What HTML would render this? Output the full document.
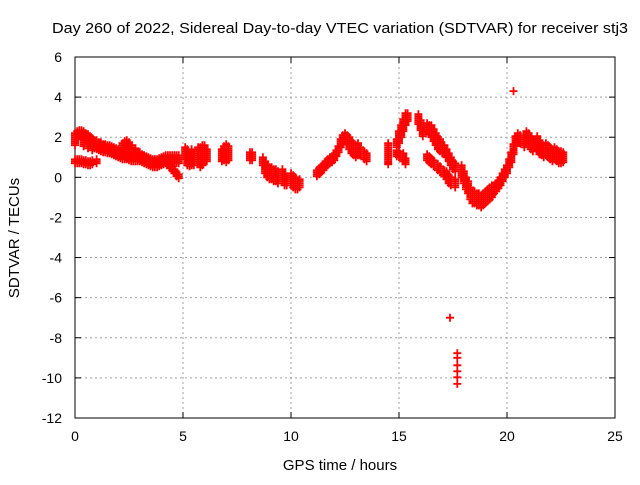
<!DOCTYPE html>
<html><head><meta charset="utf-8">
<style>
body{margin:0;background:#fff;}
svg text{font-family:"Liberation Sans",sans-serif;font-size:14px;fill:#000;}
</style></head>
<body>
<svg id="chart" width="640" height="480" xmlns="http://www.w3.org/2000/svg">
<rect width="640" height="480" fill="#fff"/>
<g id="grid"></g>
<g id="axes"></g>
<g id="marks"></g>
<text x="52" y="33" textLength="576" lengthAdjust="spacingAndGlyphs" style="font-size:15px">Day 260 of 2022, Sidereal Day-to-day VTEC variation (SDTVAR) for receiver stj3</text>
<text x="340" y="470" text-anchor="middle" style="font-size:15px">GPS time / hours</text>
<text transform="translate(19,238) rotate(-90)" text-anchor="middle" style="font-size:15px">SDTVAR / TECUs</text>
</svg>
<script>
const xTicks=[0,5,10,15,20,25];
const yTicks=[6,4,2,0,-2,-4,-6,-8,-10,-12];
// [time(h), value(TECU), vertical spread]
const traceUpper=[[0,1.9,0.3],[0.1,2.1,0.2],[0.2,2.2,0.15],[0.3,2.2,0.15],[0.4,2.15,0.15],[0.5,2.05,0.15],[0.6,1.95,0.2],[0.7,1.85,0.2],[0.8,1.75,0.2],[0.9,1.65,0.2],[1.0,1.6,0.2],[1.1,1.55,0.2],[1.2,1.5,0.2],[1.3,1.45,0.2],[1.4,1.45,0.2],[1.5,1.4,0.2],[1.6,1.4,0.2],[1.7,1.35,0.2],[1.8,1.3,0.2],[1.9,1.25,0.2],[2.0,1.2,0.2],[2.1,1.15,0.2],[2.2,1.1,0.2],[2.3,1.1,0.2],[2.4,1.1,0.2],[2.5,1.05,0.2],[2.6,1.0,0.2],[2.7,1.0,0.2],[2.8,1.0,0.2],[2.9,1.0,0.2],[3.0,1.0,0.2],[3.1,0.95,0.2],[3.2,0.9,0.2],[3.3,0.85,0.2],[3.4,0.8,0.2],[3.5,0.75,0.2],[3.6,0.7,0.2],[3.7,0.7,0.2],[3.8,0.7,0.2],[3.9,0.75,0.2],[4.0,0.8,0.2],[4.1,0.85,0.2],[4.2,0.9,0.2],[4.3,0.9,0.2],[4.4,0.9,0.2],[4.5,0.9,0.2],[4.6,0.9,0.2],[4.7,0.9,0.2],[4.8,0.9,0.2]];
const traceLower=[[0,0.8,0.1],[0.1,0.8,0.1],[0.2,0.8,0.1],[0.3,0.8,0.1],[0.4,0.75,0.1],[0.5,0.75,0.1],[0.6,0.7,0.1],[0.7,0.7,0.1],[0.8,0.75,0.1],[1.0,0.8,0.1]];
const traceBranch=[[0.4,1.7,0.15],[0.6,1.6,0.15],[0.8,1.5,0.15],[1.0,1.7,0.15],[1.2,1.6,0.15],[1.4,1.5,0.15],[1.6,1.4,0.1],[2.2,1.55,0.15],[2.3,1.65,0.15],[2.4,1.7,0.15],[2.5,1.6,0.15],[2.6,1.45,0.15],[2.8,1.3,0.15],[3.0,1.1,0.15]];
const traceDrop=[[4.2,0.8,0.1],[4.3,0.7,0.1],[4.4,0.55,0.1],[4.5,0.45,0.1],[4.6,0.3,0.1],[4.7,0.15,0.1],[4.8,0.05,0.1]];
const clusters=[[5.1,1.2,0.3],[5.2,1.0,0.4],[5.3,0.9,0.35],[5.4,1.0,0.4],[5.5,0.9,0.3],[5.7,1.1,0.4],[5.8,1.0,0.5],[5.9,1.1,0.5],[6.0,1.2,0.4],[6.1,1.1,0.3],
[6.8,1.1,0.3],[6.9,1.2,0.35],[7.0,1.2,0.45],[7.1,1.2,0.35],[8.1,1.05,0.2],[8.2,1.05,0.2],
[8.7,0.8,0.2],[8.8,0.5,0.3],[8.9,0.3,0.3],[9.0,0.2,0.3],[9.1,0.2,0.3],[9.2,0.1,0.3],[9.3,0.1,0.3],[9.4,0.0,0.3],[9.6,0.1,0.3],[9.7,-0.1,0.3],[9.8,-0.2,0.2],[10.0,-0.1,0.3],[10.1,-0.2,0.3],[10.2,-0.3,0.3],[10.3,-0.4,0.2],[10.4,-0.3,0.2],
[11.2,0.2,0.15],[11.3,0.3,0.15],[11.4,0.4,0.15],[11.5,0.5,0.15],[11.6,0.65,0.15],[11.7,0.75,0.15],[11.8,0.85,0.15],[11.9,0.9,0.15],[12.0,1.0,0.15],[12.1,1.2,0.15],[12.2,1.4,0.15],[12.3,1.7,0.2],[12.4,1.9,0.2],[12.5,2.0,0.2],[12.6,1.9,0.2],[12.7,1.7,0.3],[12.8,1.5,0.3],[12.9,1.4,0.3],[13.0,1.3,0.3],[13.1,1.4,0.3],[13.2,1.3,0.2],[13.4,1.1,0.2],[13.5,1.0,0.2],
[14.5,1.2,0.5],[14.5,0.7,0.05],
[14.9,1.2,0.15],[15.0,1.15,0.15],[15.2,1.0,0.2],[15.3,0.8,0.15],
[14.9,1.7,0.2],[15.0,2.0,0.3],[15.1,2.3,0.3],[15.2,2.6,0.3],[15.3,2.9,0.3],[15.4,3.0,0.2],
[15.9,2.9,0.25],[16.0,2.6,0.25],[16.1,2.2,0.15],[16.3,2.5,0.2],[16.4,2.4,0.2],[16.5,2.3,0.3],[16.6,2.1,0.3],[16.7,1.9,0.3],[16.8,1.7,0.3],[16.9,1.6,0.3],[17.0,1.4,0.2],[17.1,1.4,0.2],[17.2,1.2,0.2],[17.3,1.0,0.2],[17.4,0.8,0.2],[17.5,0.6,0.2],[17.6,0.5,0.2],
[16.3,1.0,0.15],[16.4,0.9,0.15],[16.5,0.8,0.15],[16.6,0.7,0.15],[16.8,0.5,0.15],[16.9,0.4,0.15],[17.1,0.2,0.15],[17.2,0.1,0.2],[17.3,-0.1,0.2],[17.4,-0.2,0.2],[17.6,-0.3,0.2],
[17.9,0.3,0.3],[18.0,0.0,0.3],[18.1,-0.3,0.3],[18.2,-0.5,0.3],[18.3,-0.8,0.3],[18.4,-1.0,0.3],[18.5,-1.0,0.3],[18.6,-1.1,0.3],[18.7,-1.1,0.3],[18.8,-1.2,0.3],[18.9,-1.1,0.3],[19.0,-1.0,0.3],[19.1,-0.9,0.3],[19.2,-0.8,0.3],[19.3,-0.7,0.3],[19.4,-0.6,0.2],[19.5,-0.5,0.2],[19.6,-0.35,0.2],[19.7,-0.2,0.2],[19.8,0.0,0.2],[19.9,0.2,0.2],[20.0,0.4,0.2],[20.1,0.7,0.2],[20.2,1.0,0.25],[20.3,1.4,0.25],[20.4,1.8,0.25],[20.5,2.0,0.2],[20.6,1.9,0.2],
[20.8,1.8,0.3],[20.9,2.0,0.3],[21.0,1.9,0.3],[21.1,1.7,0.3],[21.2,1.6,0.3],[21.4,1.7,0.35],[21.5,1.5,0.35],[21.6,1.4,0.3],[21.7,1.3,0.3],[21.8,1.4,0.3],[21.9,1.3,0.3],[22.0,1.2,0.3],[22.1,1.1,0.3],[22.2,1.2,0.3],[22.3,1.1,0.3],[22.4,1.0,0.3],[22.5,1.0,0.3],[22.6,1.0,0.25]];
const outlierTimes=[20.3,17.36,17.7,17.7,17.7,17.7,17.7,17.7];
const outlierValues=[4.3,-7.0,-8.77,-9.0,-9.37,-9.67,-9.97,-10.3];

const L=75,R=615,T=57,B=418;
const xs=t=>L+(t-0)/(25-0)*(R-L);
const ys=v=>B-(v-(-12))/(6-(-12))*(B-T);
const NS="http://www.w3.org/2000/svg";
function mk(tag,attrs,parent){const e=document.createElementNS(NS,tag);for(const k in attrs)e.setAttribute(k,attrs[k]);parent.appendChild(e);return e;}
const grid=document.getElementById('grid'),axes=document.getElementById('axes'),marks=document.getElementById('marks');
xTicks.forEach(t=>{
  const x=xs(t);
  if(t>0&&t<25){const g=mk('line',{x1:x,y1:T,x2:x,y2:B,stroke:'#a0a0a0','stroke-dasharray':'2,3'},grid);
  
  }
  mk('line',{x1:x,y1:B,x2:x,y2:B-6,stroke:'#000'},axes);
  mk('line',{x1:x,y1:T,x2:x,y2:T+6,stroke:'#000'},axes);
  const tx=mk('text',{x:x,y:B+23,'text-anchor':'middle'},axes);tx.textContent=t;
  
  
});
yTicks.forEach(v=>{
  const y=ys(v);
  if(v<6&&v>-12){const g=mk('line',{x1:L,y1:y,x2:R,y2:y,stroke:'#a0a0a0','stroke-dasharray':'2,3'},grid);
  
  }
  mk('line',{x1:L,y1:y,x2:L+6,y2:y,stroke:'#000'},axes);
  mk('line',{x1:R,y1:y,x2:R-6,y2:y,stroke:'#000'},axes);
  const tx=mk('text',{x:L-13,y:y+5,'text-anchor':'end'},axes);tx.textContent=v;
  
  
});
mk('rect',{x:L,y:T,width:R-L,height:B-T,fill:'none',stroke:'#000'},axes);
let d='';
function plus(t,v){const x=xs(t),y=ys(v);d+=`M${(x-4).toFixed(1)} ${y.toFixed(1)}h8M${x.toFixed(1)} ${(y-4).toFixed(1)}v8`;}
[traceUpper,traceLower,traceBranch,traceDrop,clusters].forEach(tr=>{
  tr.forEach(([t,v,s])=>{for(let o=-s;o<=s+1e-6;o+=0.1)plus(t,v+o);});
});
outlierTimes.forEach((t,i)=>plus(t,outlierValues[i]));
const p=mk('path',{d:d,stroke:'#ff0000','stroke-width':1.8,fill:'none'},marks);


</script>
</body></html>
